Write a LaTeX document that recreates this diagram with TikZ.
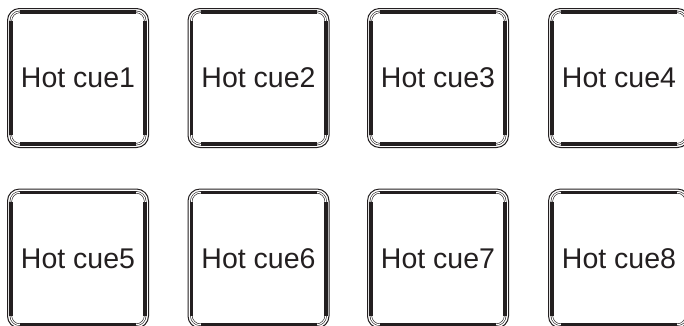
\documentclass[tikz,border=0pt]{standalone}
\usepackage{fontspec}
\setmainfont{Liberation Sans}
\definecolor{ink}{HTML}{231F20}
\begin{document}
\begin{tikzpicture}[x=1pt,y=1pt,
  pad/.style={rectangle,draw=ink,line width=1pt,rounded corners=12pt,
    minimum width=141pt,minimum height=139pt,inner sep=0pt,
    font=\fontsize{28.5}{31}\selectfont,text=ink},
  ring/.style={draw=ink,line width=0.6pt,double=white,double distance=1.1pt,rounded corners=9pt},
  band/.style={draw=ink,line width=3.6pt}]
\useasboundingbox (0,0) rectangle (684,-325);
\node[pad] (cue1) at (78,-78) {Hot cue1};
\node[pad] (cue2) at (258.5,-78) {Hot cue2};
\node[pad] (cue3) at (438,-78) {Hot cue3};
\node[pad] (cue4) at (619,-78) {Hot cue4};
\node[pad] (cue5) at (78,-258.5) {Hot cue5};
\node[pad] (cue6) at (258.5,-258.5) {Hot cue6};
\node[pad] (cue7) at (438,-258.5) {Hot cue7};
\node[pad] (cue8) at (619,-258.5) {Hot cue8};
% inner ring and thick bands of every pad
\foreach \p in {cue1,cue2,cue3,cue4,cue5,cue6,cue7,cue8}{
  \draw[ring] ([shift={(3.8,-3.8)}]\p.north west) rectangle ([shift={(-3.8,3.8)}]\p.south east);
  \draw[band] ([shift={(13,-3.8)}]\p.north west) -- ([shift={(-13,-3.8)}]\p.north east);
  \draw[band] ([shift={(13,3.8)}]\p.south west) -- ([shift={(-13,3.8)}]\p.south east);
  \draw[band] ([shift={(3.8,-13)}]\p.north west) -- ([shift={(3.8,13)}]\p.south west);
  \draw[band] ([shift={(-3.8,-13)}]\p.north east) -- ([shift={(-3.8,13)}]\p.south east);
}
\end{tikzpicture}
\end{document}
